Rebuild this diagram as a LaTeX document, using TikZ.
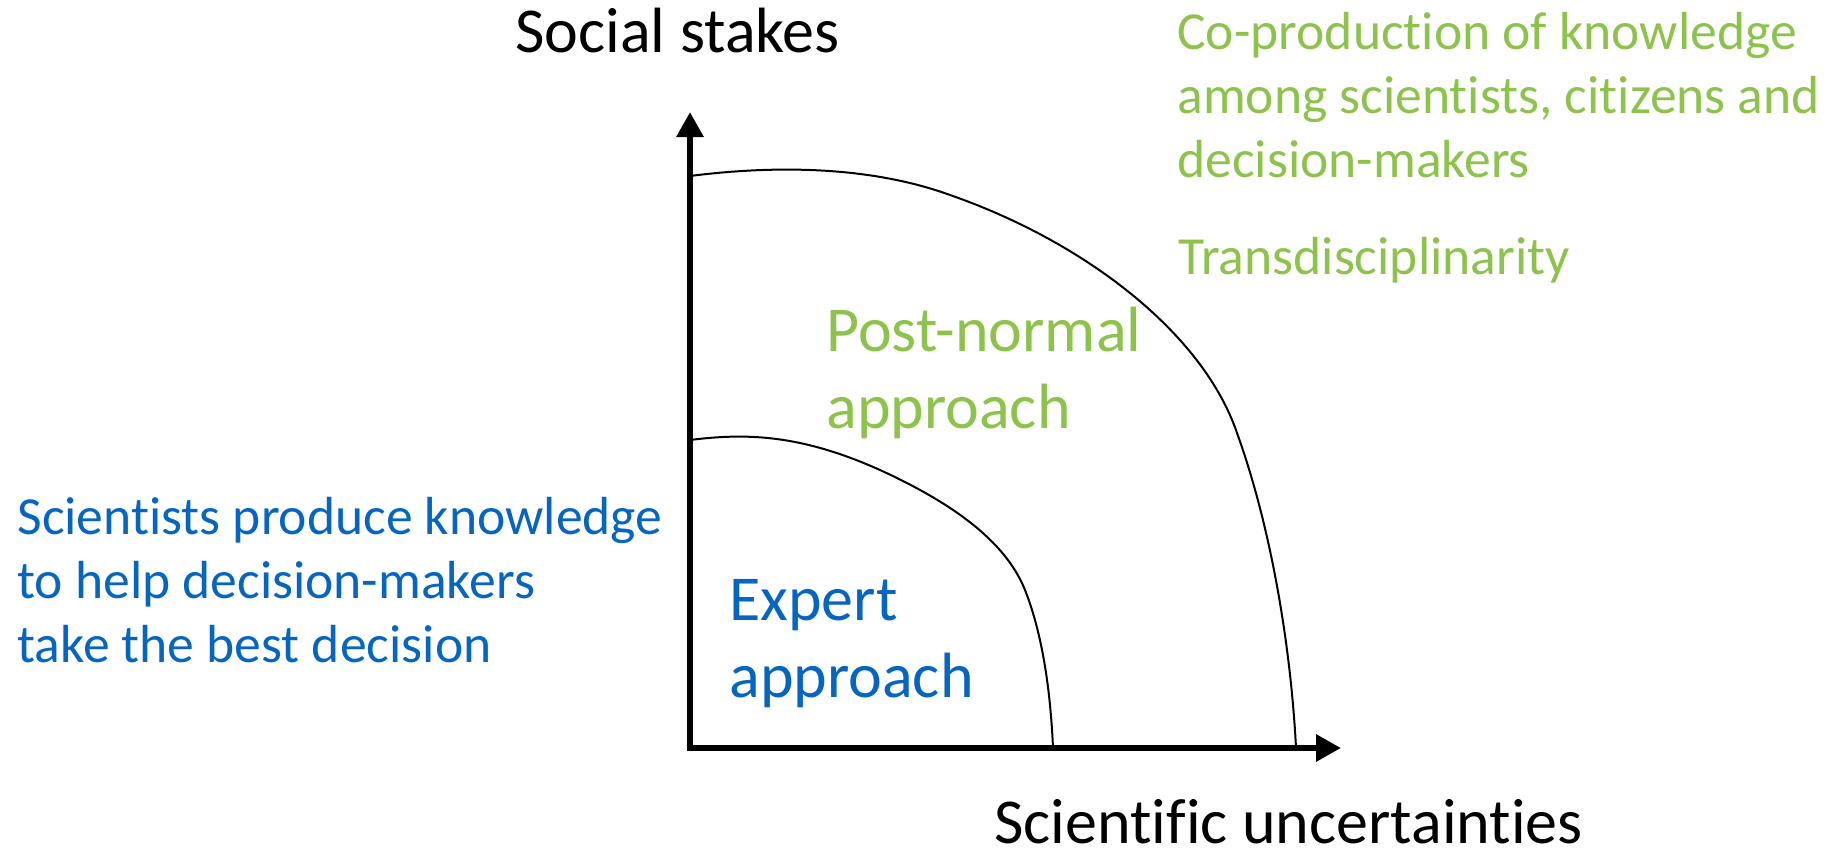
\documentclass[tikz,border=0pt]{standalone}
\usepackage{fontspec}
\setmainfont{Carlito}[Ligatures=NoCommon]
\usetikzlibrary{arrows.meta}
\definecolor{expertblue}{HTML}{0565C0}
\definecolor{postgreen}{HTML}{8DC34D}

\begin{document}
\begin{tikzpicture}[x=0.5pt,y=-0.5pt,
    axis/.style={line width=3pt,{Triangle[length=12.5pt,width=13pt]}-{Triangle[length=12.5pt,width=13pt]}},
    frontier/.style={line width=1pt},
    axislabel/.style={font=\fontsize{32}{38}\selectfont,inner sep=0pt,anchor=base west},
    bigtext/.style={font=\fontsize{32}{38.5}\selectfont,inner sep=0pt,anchor=base west,align=left},
    smalltext/.style={font=\fontsize{26.8}{32}\selectfont,inner sep=0pt,anchor=base west,align=left}]
  \useasboundingbox (0,0) rectangle (1834,856);

  % axes
  \coordinate (origin) at (690,748);
  \coordinate (ytip) at (690,112);
  \coordinate (xtip) at (1341,748);
  \draw[axis] (ytip) -- (origin) -- (xtip);

  \node[axislabel] (stakes) at (515,53) {Social stakes};
  \node[axislabel] (uncert) at (994,843) {Scientific uncertainties};

  % outer frontier
  \coordinate (outerstart) at (690,176);
  \coordinate (outerend) at (1296,748);
  \draw[frontier] (outerstart) .. controls (760,167) and (862,163) .. (950,195)
        .. controls (1085,242) and (1203,333) .. (1237,433)
        .. controls (1272,530) and (1291,650) .. (outerend);

  % inner frontier
  \coordinate (innerstart) at (690,440);
  \coordinate (innerend) at (1053,748);
  \draw[frontier] (innerstart) .. controls (745,433) and (800,434) .. (880,470)
        .. controls (950,502) and (1005,540) .. (1025,590)
        .. controls (1040,628) and (1050,680) .. (innerend);

  % labels, placed by the baseline of their last line
  \node[bigtext,text=postgreen] (postnormal) at (826,428) {Post-normal\\approach};
  \node[bigtext,text=expertblue] (expert) at (729,697) {Expert\\approach};

  \node[smalltext,text=postgreen] (coprod) at (1177,177) {Co-production of knowledge\\among scientists, citizens and\\decision-makers};
  \node[smalltext,text=postgreen] (transd) at (1178,274) {Transdisciplinarity};
  \node[smalltext,text=expertblue] (scientists) at (17,662) {Scientists produce knowledge\\to help decision-makers\\take the best decision};
\end{tikzpicture}
\end{document}
